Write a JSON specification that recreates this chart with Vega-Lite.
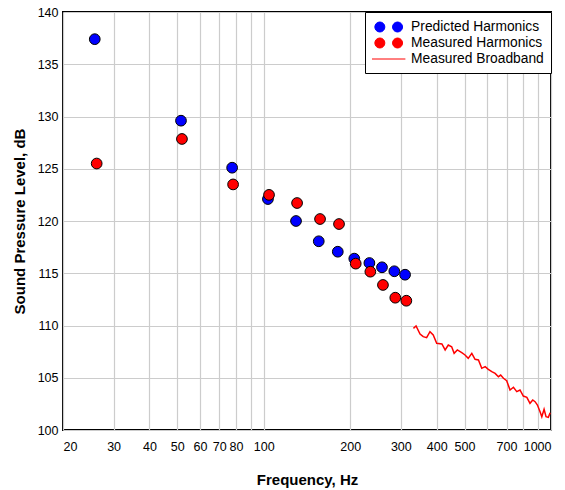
{
  "$schema": "https://vega.github.io/schema/vega-lite/v6.json",
  "width": 488,
  "height": 418,
  "autosize": {"type": "none"},
  "padding": {"left": 63, "top": 12, "right": 14, "bottom": 60},
  "config": {
    "font": "Liberation Sans",
    "view": {"stroke": "black", "strokeWidth": 2},
    "axis": {
      "domain": false,
      "ticks": false,
      "gridColor": "#cccccc",
      "gridWidth": 1.2,
      "labelFont": "Liberation Sans",
      "labelFontSize": 12.5,
      "labelColor": "black",
      "titleFont": "Liberation Sans",
      "titleFontSize": 15,
      "titleFontWeight": "bold",
      "titleColor": "black"
    },
    "legend": {
      "labelFont": "Liberation Sans",
      "labelFontSize": 13.8,
      "labelColor": "black"
    }
  },
  "data": {
    "values": [
      {"series": "Predicted Harmonics", "freq": 25.8, "spl": 137.4},
      {"series": "Predicted Harmonics", "freq": 51.5, "spl": 129.6},
      {"series": "Predicted Harmonics", "freq": 77.6, "spl": 125.1},
      {"series": "Predicted Harmonics", "freq": 103.4, "spl": 122.1},
      {"series": "Predicted Harmonics", "freq": 129.5, "spl": 120.0},
      {"series": "Predicted Harmonics", "freq": 155.4, "spl": 118.06},
      {"series": "Predicted Harmonics", "freq": 181.0, "spl": 117.06},
      {"series": "Predicted Harmonics", "freq": 206.6, "spl": 116.4},
      {"series": "Predicted Harmonics", "freq": 233.2, "spl": 115.98},
      {"series": "Predicted Harmonics", "freq": 258.0, "spl": 115.57},
      {"series": "Predicted Harmonics", "freq": 284.8, "spl": 115.19},
      {"series": "Predicted Harmonics", "freq": 310.4, "spl": 114.86},
      {"series": "Measured Harmonics", "freq": 26.2, "spl": 125.5},
      {"series": "Measured Harmonics", "freq": 51.9, "spl": 127.85},
      {"series": "Measured Harmonics", "freq": 78.2, "spl": 123.5},
      {"series": "Measured Harmonics", "freq": 104.3, "spl": 122.5},
      {"series": "Measured Harmonics", "freq": 130.6, "spl": 121.72},
      {"series": "Measured Harmonics", "freq": 157.0, "spl": 120.19},
      {"series": "Measured Harmonics", "freq": 182.8, "spl": 119.71},
      {"series": "Measured Harmonics", "freq": 209.0, "spl": 115.92},
      {"series": "Measured Harmonics", "freq": 235.0, "spl": 115.15},
      {"series": "Measured Harmonics", "freq": 260.0, "spl": 113.88},
      {"series": "Measured Harmonics", "freq": 287.0, "spl": 112.66},
      {"series": "Measured Harmonics", "freq": 313.6, "spl": 112.37},
      {"series": "Measured Broadband", "freq": 332, "spl": 109.73},
      {"series": "Measured Broadband", "freq": 339, "spl": 109.95},
      {"series": "Measured Broadband", "freq": 350, "spl": 109.19},
      {"series": "Measured Broadband", "freq": 359, "spl": 108.93},
      {"series": "Measured Broadband", "freq": 369, "spl": 108.83},
      {"series": "Measured Broadband", "freq": 379, "spl": 109.41},
      {"series": "Measured Broadband", "freq": 389, "spl": 109.09},
      {"series": "Measured Broadband", "freq": 400, "spl": 108.3},
      {"series": "Measured Broadband", "freq": 417, "spl": 108.23},
      {"series": "Measured Broadband", "freq": 428, "spl": 107.66},
      {"series": "Measured Broadband", "freq": 439, "spl": 108.13},
      {"series": "Measured Broadband", "freq": 451, "spl": 107.97},
      {"series": "Measured Broadband", "freq": 460, "spl": 107.34},
      {"series": "Measured Broadband", "freq": 472, "spl": 107.66},
      {"series": "Measured Broadband", "freq": 489, "spl": 107.4},
      {"series": "Measured Broadband", "freq": 502, "spl": 107.18},
      {"series": "Measured Broadband", "freq": 515, "spl": 106.86},
      {"series": "Measured Broadband", "freq": 530, "spl": 107.34},
      {"series": "Measured Broadband", "freq": 544, "spl": 106.77},
      {"series": "Measured Broadband", "freq": 559, "spl": 106.7},
      {"series": "Measured Broadband", "freq": 574, "spl": 105.9},
      {"series": "Measured Broadband", "freq": 590, "spl": 106.06},
      {"series": "Measured Broadband", "freq": 605, "spl": 105.81},
      {"series": "Measured Broadband", "freq": 622, "spl": 105.58},
      {"series": "Measured Broadband", "freq": 639, "spl": 105.42},
      {"series": "Measured Broadband", "freq": 656, "spl": 105.1},
      {"series": "Measured Broadband", "freq": 668, "spl": 105.26},
      {"series": "Measured Broadband", "freq": 683, "spl": 104.95},
      {"series": "Measured Broadband", "freq": 701, "spl": 104.72},
      {"series": "Measured Broadband", "freq": 720, "spl": 103.83},
      {"series": "Measured Broadband", "freq": 740, "spl": 104.09},
      {"series": "Measured Broadband", "freq": 760, "spl": 103.67},
      {"series": "Measured Broadband", "freq": 780, "spl": 103.83},
      {"series": "Measured Broadband", "freq": 801, "spl": 103.25},
      {"series": "Measured Broadband", "freq": 824, "spl": 103.13},
      {"series": "Measured Broadband", "freq": 845, "spl": 102.55},
      {"series": "Measured Broadband", "freq": 864, "spl": 102.87},
      {"series": "Measured Broadband", "freq": 880, "spl": 102.71},
      {"series": "Measured Broadband", "freq": 897, "spl": 102.39},
      {"series": "Measured Broadband", "freq": 916, "spl": 101.75},
      {"series": "Measured Broadband", "freq": 929, "spl": 101.27},
      {"series": "Measured Broadband", "freq": 946, "spl": 101.98},
      {"series": "Measured Broadband", "freq": 961, "spl": 101.27},
      {"series": "Measured Broadband", "freq": 979, "spl": 101.21},
      {"series": "Measured Broadband", "freq": 993, "spl": 101.65}
    ]
  },
  "encoding": {
    "x": {
      "field": "freq",
      "type": "quantitative",
      "scale": {"type": "log", "domain": [20, 1000], "nice": false},
      "axis": {
        "title": "Frequency, Hz",
        "values": [20, 30, 40, 50, 60, 70, 80, 90, 100, 200, 300, 400, 500, 600, 700, 800, 900, 1000],
        "format": "d",
        "labelExpr": "(datum.value == 90 || datum.value == 600 || datum.value == 800 || datum.value == 900) ? '' : datum.label",
        "labelOverlap": false,
        "labelPadding": 10,
        "titlePadding": 20
      }
    },
    "y": {
      "field": "spl",
      "type": "quantitative",
      "scale": {"domain": [100, 140], "nice": false, "zero": false},
      "axis": {
        "title": "Sound Pressure Level, dB",
        "values": [100, 105, 110, 115, 120, 125, 130, 135, 140],
        "labelPadding": 5,
        "titlePadding": 10
      }
    },
    "color": {
      "field": "series",
      "type": "nominal",
      "scale": {
        "domain": ["Predicted Harmonics", "Measured Harmonics", "Measured Broadband"],
        "range": ["#0000ff", "#ff0000", "#ff0000"]
      },
      "legend": {
        "title": null,
        "orient": "top-right",
        "offset": 0,
        "strokeColor": "black",
        "fillColor": "white",
        "padding": 7,
        "rowPadding": 0,
        "symbolSize": 225,
        "symbolOffset": 8.7,
        "labelOffset": 14.4,
        "encode": {
          "symbols": {
            "update": {
              "shape": {"signal": "datum.value == 'Measured Broadband' ? 'M-2.227,0L2.227,0' : 'M-1.847,0A0.667,0.667,0,1,0,-0.513,0A0.667,0.667,0,1,0,-1.847,0Z M0.513,0A0.667,0.667,0,1,0,1.847,0A0.667,0.667,0,1,0,0.513,0Z'"},
              "fill": {"signal": "datum.value == 'Predicted Harmonics' ? '#0000ff' : datum.value == 'Measured Harmonics' ? '#ff0000' : 'transparent'"},
              "stroke": {"signal": "datum.value == 'Measured Broadband' ? '#ff0000' : 'black'"},
              "strokeWidth": {"value": 1},
              "opacity": {"value": 1}
            }
          }
        }
      }
    }
  },
  "layer": [
    {
      "transform": [{"filter": "datum.series != 'Measured Broadband'"}],
      "mark": {"type": "point", "shape": "circle", "filled": true, "size": 115, "stroke": "black", "strokeWidth": 1, "opacity": 1}
    },
    {
      "transform": [{"filter": "datum.series == 'Measured Broadband'"}],
      "mark": {"type": "line", "strokeWidth": 1.5, "clip": true}
    }
  ]
}
